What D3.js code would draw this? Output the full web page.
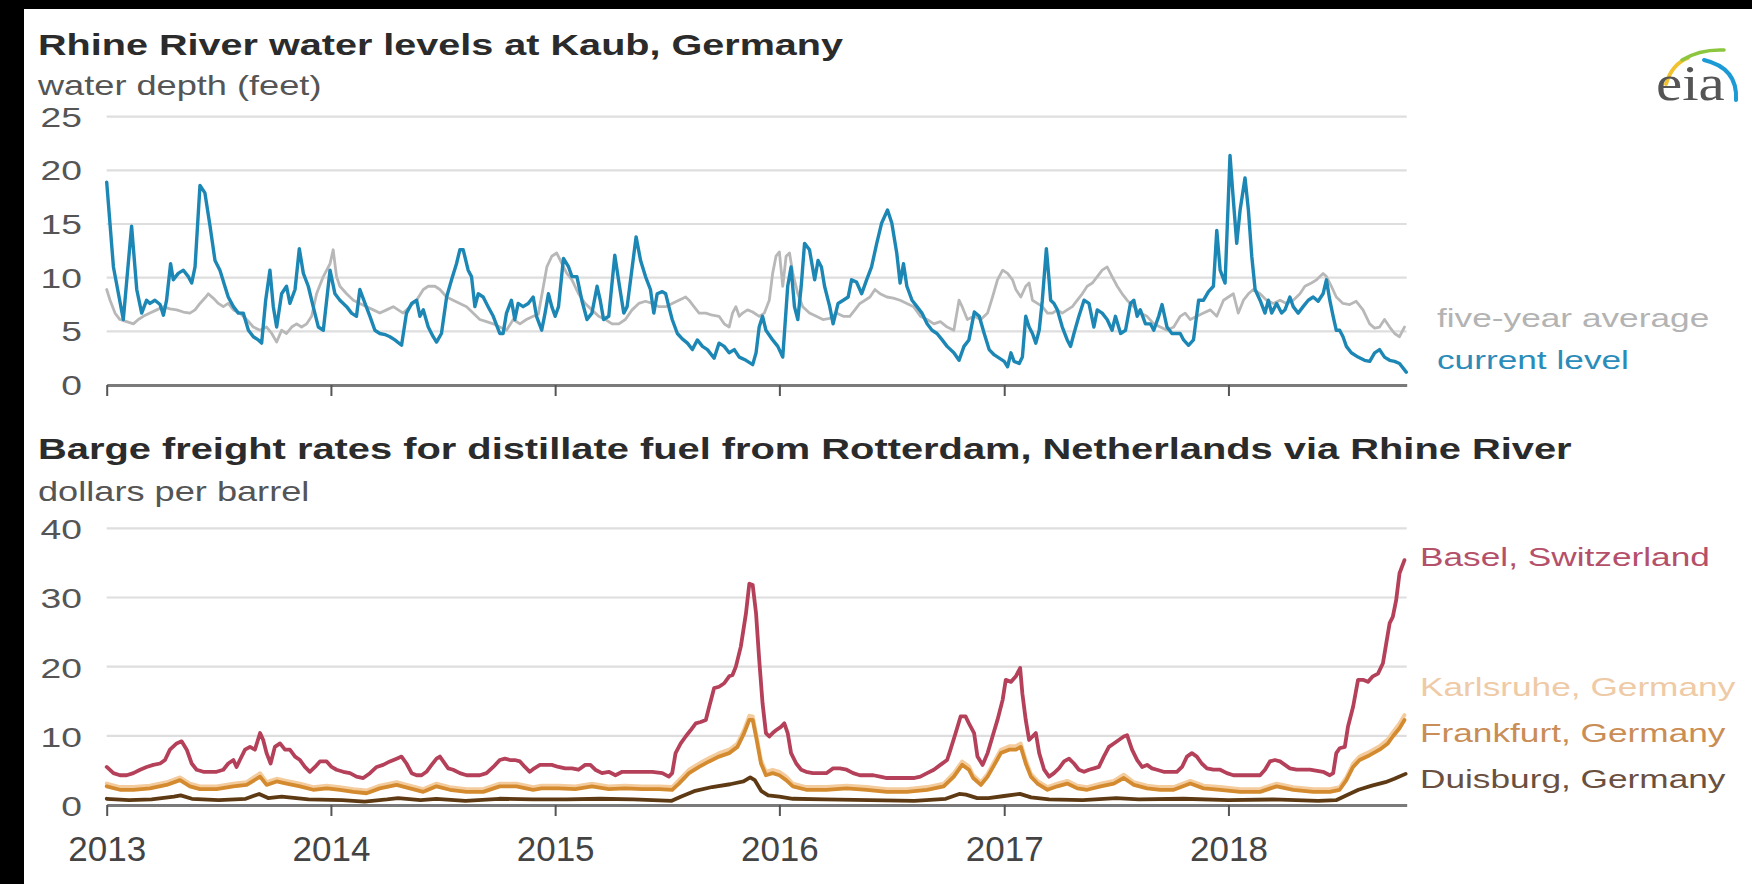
<!DOCTYPE html>
<html><head><meta charset="utf-8">
<script src="https://cdn.jsdelivr.net/npm/d3@7"></script>
<style>html,body{margin:0;padding:0;background:#000;} svg{display:block}</style>
</head><body>
<svg id="c" width="1752" height="884"></svg>
<script>
// ---------------- DATA ----------------
const years = [2013, 2014, 2015, 2016, 2017, 2018];
const levelTicks = [0, 5, 10, 15, 20, 25];
const rateTicks = [0, 10, 20, 30, 40];

// Rhine water level at Kaub, feet  [decimal year, value]
const currentLevel = [[2013.000,18.9],[2013.030,11.0],[2013.074,6.1],[2013.111,14.8],[2013.134,8.9],[2013.156,6.7],[2013.178,7.9],[2013.193,7.6],[2013.215,7.9],[2013.238,7.5],[2013.253,6.5],[2013.267,7.9],[2013.285,11.3],[2013.297,9.8],[2013.319,10.4],[2013.342,10.7],[2013.364,10.1],[2013.379,9.5],[2013.394,11.0],[2013.416,18.6],[2013.438,17.9],[2013.461,14.8],[2013.483,11.6],[2013.505,10.7],[2013.527,9.2],[2013.542,8.2],[2013.565,7.3],[2013.587,6.7],[2013.609,6.7],[2013.632,5.1],[2013.654,4.5],[2013.676,4.2],[2013.691,3.9],[2013.709,7.9],[2013.728,10.7],[2013.743,7.3],[2013.758,5.4],[2013.780,8.5],[2013.802,9.2],[2013.817,7.6],[2013.840,8.9],[2013.859,12.7],[2013.877,10.4],[2013.899,9.2],[2013.921,7.3],[2013.944,5.4],[2013.966,5.1],[2013.996,10.7],[2014.018,8.5],[2014.040,7.9],[2014.070,7.3],[2014.092,6.7],[2014.114,6.4],[2014.129,8.9],[2014.152,7.6],[2014.174,6.4],[2014.196,5.1],[2014.218,4.8],[2014.241,4.7],[2014.263,4.5],[2014.285,4.2],[2014.315,3.7],[2014.337,6.7],[2014.360,7.6],[2014.382,7.9],[2014.397,6.4],[2014.412,7.0],[2014.434,5.4],[2014.456,4.5],[2014.471,4.0],[2014.493,4.8],[2014.516,8.2],[2014.538,9.8],[2014.560,11.3],[2014.575,12.6],[2014.590,12.6],[2014.612,10.7],[2014.627,10.1],[2014.642,7.3],[2014.657,8.5],[2014.679,8.2],[2014.701,7.3],[2014.724,6.4],[2014.753,4.8],[2014.768,4.8],[2014.783,6.7],[2014.805,7.9],[2014.820,6.1],[2014.835,7.6],[2014.857,7.3],[2014.880,7.6],[2014.902,8.2],[2014.917,6.4],[2014.940,5.1],[2014.955,6.7],[2014.970,8.5],[2014.985,7.3],[2015.000,6.4],[2015.015,7.3],[2015.037,11.8],[2015.060,11.0],[2015.075,10.1],[2015.097,10.1],[2015.119,7.9],[2015.142,6.1],[2015.164,6.7],[2015.187,9.2],[2015.201,7.9],[2015.216,6.1],[2015.239,6.4],[2015.266,12.1],[2015.287,9.2],[2015.306,6.7],[2015.321,7.3],[2015.361,13.8],[2015.381,11.6],[2015.403,10.1],[2015.425,8.9],[2015.440,6.7],[2015.455,8.5],[2015.478,8.7],[2015.493,8.5],[2015.507,7.3],[2015.522,6.1],[2015.545,4.8],[2015.567,4.3],[2015.590,3.9],[2015.612,3.3],[2015.634,4.2],[2015.657,3.6],[2015.679,3.3],[2015.709,2.5],[2015.731,3.9],[2015.754,3.6],[2015.776,3.0],[2015.799,3.3],[2015.821,2.6],[2015.851,2.3],[2015.881,1.9],[2015.896,3.0],[2015.910,5.4],[2015.925,6.4],[2015.940,5.1],[2015.970,4.2],[2015.993,3.6],[2016.015,2.6],[2016.037,9.2],[2016.052,11.0],[2016.067,7.3],[2016.082,6.1],[2016.097,9.2],[2016.112,13.2],[2016.134,12.6],[2016.157,9.8],[2016.172,11.6],[2016.187,11.0],[2016.201,9.2],[2016.224,7.3],[2016.239,5.7],[2016.261,7.6],[2016.284,7.9],[2016.306,8.2],[2016.321,9.8],[2016.343,9.6],[2016.366,8.5],[2016.388,9.8],[2016.410,11.0],[2016.433,13.2],[2016.455,15.1],[2016.481,16.3],[2016.500,15.1],[2016.522,12.3],[2016.537,9.5],[2016.552,11.3],[2016.567,9.2],[2016.590,7.9],[2016.612,7.3],[2016.634,6.7],[2016.657,5.7],[2016.679,5.1],[2016.701,4.8],[2016.724,4.2],[2016.746,3.6],[2016.776,3.0],[2016.799,2.3],[2016.821,3.6],[2016.843,4.2],[2016.867,6.8],[2016.889,6.4],[2016.911,4.8],[2016.933,3.3],[2016.956,2.8],[2016.978,2.5],[2017.000,2.2],[2017.015,1.7],[2017.030,3.0],[2017.044,2.2],[2017.067,2.0],[2017.081,2.6],[2017.096,6.4],[2017.111,5.4],[2017.126,4.8],[2017.141,3.9],[2017.156,5.1],[2017.170,7.9],[2017.188,12.7],[2017.200,9.8],[2017.207,7.9],[2017.222,7.6],[2017.237,7.0],[2017.259,5.4],[2017.281,4.2],[2017.296,3.6],[2017.311,4.8],[2017.333,6.4],[2017.356,7.9],[2017.378,7.6],[2017.400,5.4],[2017.415,7.0],[2017.437,6.7],[2017.459,6.1],[2017.481,5.1],[2017.496,6.4],[2017.519,4.8],[2017.541,5.1],[2017.563,7.6],[2017.578,7.9],[2017.593,6.4],[2017.607,7.0],[2017.630,5.7],[2017.652,5.7],[2017.667,5.1],[2017.689,6.4],[2017.704,7.5],[2017.726,5.4],[2017.748,4.8],[2017.770,4.8],[2017.785,4.8],[2017.800,4.2],[2017.822,3.7],[2017.844,4.2],[2017.867,7.9],[2017.889,7.9],[2017.911,8.7],[2017.933,9.2],[2017.948,14.4],[2017.963,10.7],[2017.985,9.5],[2018.007,21.4],[2018.022,17.2],[2018.037,13.2],[2018.052,16.3],[2018.074,19.3],[2018.089,16.3],[2018.104,12.0],[2018.119,8.9],[2018.141,7.9],[2018.163,6.7],[2018.178,7.9],[2018.193,6.7],[2018.215,7.6],[2018.237,6.7],[2018.252,7.0],[2018.274,8.2],[2018.289,7.3],[2018.311,6.7],[2018.333,7.3],[2018.356,7.9],[2018.378,8.2],[2018.400,7.8],[2018.422,8.5],[2018.437,9.8],[2018.452,7.9],[2018.467,6.4],[2018.481,5.1],[2018.496,5.1],[2018.511,4.5],[2018.526,3.6],[2018.548,3.0],[2018.578,2.6],[2018.607,2.3],[2018.630,2.2],[2018.652,3.0],[2018.674,3.3],[2018.696,2.6],[2018.719,2.3],[2018.741,2.2],[2018.763,2.0],[2018.793,1.2]];

const fiveYearAverage = [[2013.000,8.9],[2013.015,7.9],[2013.037,6.7],[2013.059,6.1],[2013.089,5.9],[2013.119,5.7],[2013.141,6.1],[2013.163,6.4],[2013.193,6.7],[2013.223,7.0],[2013.253,7.3],[2013.282,7.1],[2013.312,7.0],[2013.342,6.8],[2013.371,6.7],[2013.394,7.0],[2013.416,7.6],[2013.438,8.1],[2013.453,8.5],[2013.475,8.1],[2013.498,7.6],[2013.520,7.3],[2013.542,7.6],[2013.565,7.0],[2013.594,6.7],[2013.624,6.1],[2013.654,5.4],[2013.684,5.1],[2013.713,5.4],[2013.736,4.8],[2013.758,4.0],[2013.780,5.1],[2013.802,4.8],[2013.825,5.4],[2013.847,5.7],[2013.869,5.4],[2013.892,5.7],[2013.914,6.4],[2013.936,8.5],[2013.966,10.1],[2013.996,11.3],[2014.010,12.6],[2014.025,10.1],[2014.040,9.2],[2014.070,8.5],[2014.100,7.9],[2014.129,7.6],[2014.159,7.3],[2014.189,7.0],[2014.218,6.7],[2014.248,7.0],[2014.278,7.3],[2014.300,7.0],[2014.322,6.7],[2014.352,7.3],[2014.382,7.9],[2014.412,8.9],[2014.434,9.2],[2014.464,9.2],[2014.486,8.9],[2014.516,8.2],[2014.545,7.9],[2014.575,7.6],[2014.605,7.3],[2014.634,6.7],[2014.664,6.1],[2014.694,5.9],[2014.724,5.7],[2014.753,5.4],[2014.783,5.1],[2014.813,6.1],[2014.843,5.7],[2014.872,6.1],[2014.902,6.4],[2014.925,6.6],[2014.945,8.9],[2014.963,11.0],[2014.985,12.0],[2015.007,12.3],[2015.030,11.3],[2015.052,10.4],[2015.075,9.8],[2015.104,8.5],[2015.134,7.6],[2015.164,7.0],[2015.194,6.4],[2015.224,6.1],[2015.254,5.7],[2015.284,5.7],[2015.313,6.1],[2015.343,7.0],[2015.373,7.6],[2015.403,7.8],[2015.433,7.6],[2015.463,7.3],[2015.493,7.3],[2015.522,7.6],[2015.552,7.9],[2015.582,8.2],[2015.597,7.9],[2015.619,7.3],[2015.642,6.7],[2015.672,6.7],[2015.701,6.5],[2015.731,6.4],[2015.754,5.7],[2015.776,5.4],[2015.791,6.7],[2015.806,7.3],[2015.821,6.4],[2015.836,6.7],[2015.858,7.0],[2015.881,6.8],[2015.910,6.4],[2015.933,6.7],[2015.955,7.9],[2015.970,10.4],[2015.985,12.0],[2016.000,12.4],[2016.015,9.2],[2016.030,12.0],[2016.045,12.3],[2016.060,10.4],[2016.082,8.5],[2016.104,7.3],[2016.134,6.7],[2016.164,6.4],[2016.194,6.1],[2016.224,6.2],[2016.254,6.7],[2016.284,6.4],[2016.313,6.4],[2016.336,7.0],[2016.358,7.6],[2016.381,7.9],[2016.403,8.2],[2016.425,8.9],[2016.448,8.5],[2016.478,8.2],[2016.507,8.1],[2016.537,7.9],[2016.567,7.6],[2016.597,7.3],[2016.627,6.4],[2016.657,6.1],[2016.687,5.7],[2016.716,5.9],[2016.746,5.4],[2016.776,5.1],[2016.799,7.9],[2016.813,7.3],[2016.836,6.1],[2016.866,6.4],[2016.896,6.1],[2016.926,6.7],[2016.948,8.2],[2016.970,9.8],[2016.993,10.7],[2017.015,10.4],[2017.037,9.8],[2017.052,8.9],[2017.074,8.2],[2017.096,9.2],[2017.111,9.5],[2017.126,7.9],[2017.148,7.6],[2017.170,7.3],[2017.193,6.7],[2017.215,6.7],[2017.237,7.0],[2017.259,6.7],[2017.281,7.0],[2017.304,7.3],[2017.326,7.9],[2017.348,8.5],[2017.370,9.2],[2017.393,9.5],[2017.415,10.1],[2017.437,10.7],[2017.459,11.0],[2017.481,10.1],[2017.504,9.2],[2017.526,8.5],[2017.548,7.9],[2017.578,7.3],[2017.607,6.7],[2017.637,6.4],[2017.667,5.7],[2017.696,5.4],[2017.726,5.1],[2017.756,5.4],[2017.785,6.4],[2017.807,6.7],[2017.830,6.1],[2017.859,6.4],[2017.889,6.7],[2017.919,7.0],[2017.948,6.4],[2017.978,7.9],[2018.000,8.2],[2018.022,8.5],[2018.044,6.7],[2018.067,7.9],[2018.089,8.5],[2018.111,8.9],[2018.141,8.5],[2018.170,7.9],[2018.200,7.6],[2018.230,7.9],[2018.259,7.6],[2018.289,7.9],[2018.319,8.5],[2018.341,9.2],[2018.370,9.5],[2018.393,9.8],[2018.422,10.4],[2018.437,10.1],[2018.459,9.2],[2018.481,8.2],[2018.511,7.6],[2018.541,7.5],[2018.570,7.8],[2018.600,7.0],[2018.630,5.7],[2018.652,5.3],[2018.674,5.4],[2018.696,6.1],[2018.719,5.4],[2018.741,4.8],[2018.763,4.5],[2018.785,5.4]];

// Barge freight rates, dollars per barrel  [decimal year, value]
const basel = [[2013.000,5.5],[2013.030,4.6],[2013.059,4.3],[2013.089,4.3],[2013.119,4.6],[2013.149,5.1],[2013.178,5.5],[2013.208,5.8],[2013.238,6.0],[2013.260,6.5],[2013.282,8.0],[2013.312,8.9],[2013.334,9.2],[2013.357,8.0],[2013.379,6.0],[2013.401,5.1],[2013.431,4.8],[2013.461,4.8],[2013.490,4.8],[2013.520,5.1],[2013.542,6.0],[2013.565,6.5],[2013.579,5.5],[2013.594,6.5],[2013.617,8.0],[2013.639,8.4],[2013.661,8.0],[2013.684,10.4],[2013.698,9.4],[2013.713,7.5],[2013.731,6.0],[2013.750,8.4],[2013.773,8.9],[2013.795,8.0],[2013.817,8.0],[2013.840,7.0],[2013.862,6.5],[2013.884,5.5],[2013.906,4.8],[2013.929,5.5],[2013.951,6.3],[2013.981,6.3],[2014.003,5.5],[2014.025,5.1],[2014.055,4.8],[2014.085,4.6],[2014.114,4.1],[2014.144,3.9],[2014.174,4.6],[2014.204,5.5],[2014.233,5.8],[2014.263,6.3],[2014.293,6.7],[2014.315,7.0],[2014.337,6.0],[2014.360,4.6],[2014.382,4.3],[2014.404,4.3],[2014.426,4.8],[2014.449,5.8],[2014.471,6.7],[2014.486,7.0],[2014.501,6.3],[2014.523,5.3],[2014.545,5.1],[2014.575,4.6],[2014.605,4.3],[2014.634,4.3],[2014.664,4.3],[2014.694,4.6],[2014.724,5.5],[2014.753,6.5],[2014.776,6.7],[2014.798,6.5],[2014.820,6.5],[2014.843,6.3],[2014.865,5.5],[2014.887,4.8],[2014.907,5.3],[2014.932,5.8],[2014.985,5.8],[2015.015,5.5],[2015.045,5.3],[2015.075,5.3],[2015.104,5.1],[2015.134,5.8],[2015.157,5.8],[2015.179,5.1],[2015.209,4.6],[2015.239,4.8],[2015.269,4.3],[2015.299,4.8],[2015.343,4.8],[2015.388,4.8],[2015.433,4.8],[2015.478,4.6],[2015.507,4.1],[2015.522,4.6],[2015.537,7.5],[2015.560,8.9],[2015.582,9.9],[2015.604,10.8],[2015.627,11.8],[2015.649,12.0],[2015.672,12.3],[2015.687,14.2],[2015.709,16.9],[2015.731,17.1],[2015.754,17.6],[2015.776,18.6],[2015.791,18.8],[2015.806,20.0],[2015.828,22.9],[2015.851,27.7],[2015.866,32.0],[2015.881,31.8],[2015.896,27.7],[2015.910,21.0],[2015.925,14.7],[2015.940,10.4],[2015.955,9.9],[2015.970,10.4],[2015.985,10.8],[2016.007,11.3],[2016.022,11.8],[2016.037,10.4],[2016.052,7.5],[2016.075,6.0],[2016.097,5.1],[2016.119,4.8],[2016.149,4.6],[2016.179,4.6],[2016.209,4.6],[2016.239,5.3],[2016.269,5.3],[2016.299,5.1],[2016.328,4.6],[2016.358,4.3],[2016.388,4.3],[2016.418,4.3],[2016.448,4.1],[2016.478,3.9],[2016.537,3.9],[2016.597,3.9],[2016.627,4.1],[2016.657,4.6],[2016.687,5.1],[2016.716,5.8],[2016.746,6.5],[2016.761,8.0],[2016.784,10.4],[2016.806,12.8],[2016.828,12.8],[2016.843,11.8],[2016.866,10.4],[2016.881,7.0],[2016.904,5.8],[2016.926,7.5],[2016.948,9.9],[2016.970,12.3],[2016.993,15.2],[2017.007,18.1],[2017.030,17.8],[2017.052,18.6],[2017.071,19.8],[2017.081,16.1],[2017.096,12.3],[2017.111,9.4],[2017.126,9.9],[2017.141,10.4],[2017.156,7.5],[2017.178,5.1],[2017.200,4.1],[2017.222,4.6],[2017.244,5.3],[2017.267,6.3],[2017.289,6.7],[2017.311,6.0],[2017.333,5.1],[2017.356,4.8],[2017.378,5.1],[2017.400,5.3],[2017.422,5.5],[2017.444,7.0],[2017.467,8.4],[2017.489,8.9],[2017.511,9.4],[2017.533,9.9],[2017.548,10.1],[2017.570,8.0],[2017.593,6.5],[2017.615,5.5],[2017.637,5.8],[2017.659,5.3],[2017.681,5.1],[2017.711,4.8],[2017.741,4.8],[2017.770,4.8],[2017.793,5.5],[2017.815,7.0],[2017.837,7.5],[2017.859,7.0],[2017.881,6.0],[2017.904,5.3],[2017.933,5.1],[2017.963,5.1],[2017.993,4.6],[2018.022,4.3],[2018.081,4.3],[2018.141,4.3],[2018.163,5.1],[2018.185,6.3],[2018.207,6.5],[2018.230,6.3],[2018.252,5.8],[2018.274,5.3],[2018.304,5.1],[2018.363,5.1],[2018.422,4.8],[2018.452,4.3],[2018.467,4.6],[2018.481,7.5],[2018.496,8.2],[2018.519,8.4],[2018.533,11.3],[2018.556,14.2],[2018.578,18.1],[2018.600,18.1],[2018.622,17.8],[2018.644,18.6],[2018.667,19.0],[2018.689,20.5],[2018.704,23.4],[2018.719,26.3],[2018.733,27.2],[2018.748,29.6],[2018.763,33.5],[2018.785,35.4]];

const frankfurt = [[2013.000,2.7],[2013.059,2.2],[2013.119,2.2],[2013.193,2.4],[2013.267,2.9],[2013.327,3.6],[2013.371,2.7],[2013.416,2.3],[2013.490,2.3],[2013.565,2.7],[2013.624,2.9],[2013.684,4.1],[2013.713,2.9],[2013.758,3.4],[2013.802,3.1],[2013.862,2.7],[2013.921,2.2],[2013.981,2.4],[2014.040,2.2],[2014.100,1.9],[2014.159,1.7],[2014.218,2.4],[2014.293,2.9],[2014.352,2.4],[2014.412,1.9],[2014.471,2.7],[2014.530,2.2],[2014.605,1.9],[2014.679,1.9],[2014.753,2.7],[2014.827,2.7],[2014.902,2.2],[2014.940,2.4],[2015.015,2.4],[2015.090,2.3],[2015.164,2.7],[2015.239,2.3],[2015.313,2.4],[2015.388,2.3],[2015.463,2.3],[2015.522,2.2],[2015.552,3.1],[2015.597,4.6],[2015.642,5.5],[2015.687,6.3],[2015.731,7.0],[2015.776,7.5],[2015.813,8.4],[2015.843,10.4],[2015.866,12.3],[2015.881,12.3],[2015.896,9.9],[2015.918,6.0],[2015.940,4.3],[2015.970,4.6],[2016.000,4.3],[2016.030,3.6],[2016.060,2.7],[2016.119,2.2],[2016.209,2.2],[2016.299,2.4],[2016.388,2.2],[2016.478,1.9],[2016.567,1.9],[2016.657,2.2],[2016.731,2.7],[2016.776,4.1],[2016.813,5.8],[2016.843,5.1],[2016.862,3.9],[2016.896,2.9],[2016.926,4.1],[2016.956,5.8],[2016.985,7.5],[2017.022,8.0],[2017.052,8.0],[2017.074,8.4],[2017.096,6.0],[2017.119,4.1],[2017.148,3.1],[2017.193,2.2],[2017.237,2.7],[2017.281,3.1],[2017.326,2.4],[2017.370,2.2],[2017.430,2.7],[2017.489,3.1],[2017.533,3.9],[2017.578,2.9],[2017.637,2.4],[2017.696,2.2],[2017.756,2.2],[2017.830,3.1],[2017.889,2.4],[2017.963,2.2],[2018.052,1.9],[2018.141,1.9],[2018.215,2.7],[2018.289,2.2],[2018.378,1.9],[2018.452,1.9],[2018.496,2.2],[2018.526,3.6],[2018.556,5.5],[2018.585,6.5],[2018.630,7.2],[2018.674,8.0],[2018.711,8.9],[2018.733,9.9],[2018.763,11.1],[2018.785,12.3]];

const karlsruhe = [[2013.000,3.1],[2013.059,2.6],[2013.119,2.6],[2013.193,2.8],[2013.267,3.3],[2013.327,4.0],[2013.371,3.1],[2013.416,2.7],[2013.490,2.7],[2013.565,3.1],[2013.624,3.3],[2013.684,4.6],[2013.713,3.3],[2013.758,3.8],[2013.802,3.5],[2013.862,3.1],[2013.921,2.6],[2013.981,2.8],[2014.040,2.6],[2014.100,2.3],[2014.159,2.1],[2014.218,2.8],[2014.293,3.3],[2014.352,2.8],[2014.412,2.3],[2014.471,3.1],[2014.530,2.6],[2014.605,2.3],[2014.679,2.3],[2014.753,3.1],[2014.827,3.1],[2014.902,2.6],[2014.940,2.8],[2015.015,2.8],[2015.090,2.7],[2015.164,3.1],[2015.239,2.7],[2015.313,2.8],[2015.388,2.7],[2015.463,2.7],[2015.522,2.6],[2015.552,3.6],[2015.597,5.1],[2015.642,6.0],[2015.687,6.8],[2015.731,7.5],[2015.776,8.0],[2015.813,8.9],[2015.843,10.9],[2015.866,12.9],[2015.881,12.8],[2015.896,10.4],[2015.918,6.5],[2015.940,4.8],[2015.970,5.1],[2016.000,4.8],[2016.030,4.1],[2016.060,3.1],[2016.119,2.6],[2016.209,2.6],[2016.299,2.8],[2016.388,2.6],[2016.478,2.3],[2016.567,2.3],[2016.657,2.6],[2016.731,3.1],[2016.776,4.6],[2016.813,6.3],[2016.843,5.6],[2016.862,4.3],[2016.896,3.3],[2016.926,4.5],[2016.956,6.3],[2016.985,8.0],[2017.022,8.5],[2017.052,8.5],[2017.074,8.9],[2017.096,6.5],[2017.119,4.5],[2017.148,3.5],[2017.193,2.6],[2017.237,3.1],[2017.281,3.5],[2017.326,2.8],[2017.370,2.6],[2017.430,3.1],[2017.489,3.5],[2017.533,4.4],[2017.578,3.3],[2017.637,2.8],[2017.696,2.6],[2017.756,2.6],[2017.830,3.5],[2017.889,2.8],[2017.963,2.6],[2018.052,2.3],[2018.141,2.3],[2018.215,3.1],[2018.289,2.6],[2018.378,2.3],[2018.452,2.3],[2018.496,2.6],[2018.526,4.0],[2018.556,6.0],[2018.585,7.0],[2018.630,7.7],[2018.674,8.5],[2018.711,9.5],[2018.733,10.5],[2018.763,11.8],[2018.785,13.0]];

const duisburg = [[2013.000,0.9],[2013.100,0.7],[2013.200,0.8],[2013.300,1.2],[2013.330,1.4],[2013.380,0.9],[2013.500,0.7],[2013.620,0.9],[2013.680,1.6],[2013.720,1.0],[2013.780,1.2],[2013.900,0.8],[2014.050,0.7],[2014.150,0.5],[2014.250,0.8],[2014.300,1.0],[2014.400,0.7],[2014.470,0.9],[2014.600,0.6],[2014.750,0.9],[2014.900,0.8],[2015.050,0.8],[2015.200,0.9],[2015.350,0.8],[2015.520,0.6],[2015.560,1.2],[2015.620,2.0],[2015.700,2.6],[2015.780,3.0],[2015.840,3.4],[2015.870,4.0],[2015.890,3.6],[2015.920,2.0],[2015.950,1.4],[2016.000,1.2],[2016.060,0.9],[2016.200,0.8],[2016.400,0.7],[2016.600,0.6],[2016.740,0.9],[2016.800,1.6],[2016.830,1.5],[2016.880,1.0],[2016.930,1.0],[2017.000,1.3],[2017.070,1.6],[2017.120,1.1],[2017.200,0.8],[2017.350,0.7],[2017.500,1.0],[2017.600,0.8],[2017.800,0.9],[2018.000,0.7],[2018.200,0.8],[2018.400,0.6],[2018.480,0.7],[2018.520,1.3],[2018.580,2.2],[2018.640,2.8],[2018.700,3.3],[2018.740,3.8],[2018.790,4.5]];

// ---------------- DRAWING ----------------
const svg = d3.select('#c');
const W = 1752, H = 884;
const FONT = "'Liberation Sans', Arial, Helvetica, sans-serif";
const SX = 1.33;

svg.append('rect').attr('width', W).attr('height', H).attr('fill', '#000');
svg.append('rect').attr('x', 24).attr('y', 9).attr('width', W - 24).attr('height', H - 9).attr('fill', '#fff');

const toDate = t => { const y = Math.floor(t); const s = Date.UTC(y, 0, 1), e = Date.UTC(y + 1, 0, 1); return new Date(s + (t - y) * (e - s)); };
const x = d3.scaleUtc().domain([toDate(2013), toDate(2018.795)]).range([106.7, 1406.7]);
const yTop = d3.scaleLinear().domain([0, 25]).range([385, 116.7]);
const yBot = d3.scaleLinear().domain([0, 40]).range([805, 528.3]);

function txt(s, tx, ty, o) {
  return svg.append('text')
    .attr('transform', `translate(${tx},${ty}) scale(${o.sx || SX},1)`)
    .attr('text-anchor', o.anchor || 'start')
    .style('font-family', o.family || FONT)
    .style('font-size', o.size + 'px')
    .style('font-weight', o.weight || 'normal')
    .attr('fill', o.fill || '#333')
    .text(s);
}

function panel(y, ticks, labelOffset, withLabels) {
  const g = svg.append('g');
  g.selectAll('line.grid').data(ticks.filter(d => d > 0)).join('line')
    .attr('x1', x.range()[0]).attr('x2', x.range()[1])
    .attr('y1', d => y(d)).attr('y2', d => y(d))
    .attr('stroke', '#dedede').attr('stroke-width', 2.2);
  ticks.forEach(t => txt(String(t), 82, y(t) + labelOffset, {size: 28, anchor: 'end', fill: '#555'}));
  const axis = d3.axisBottom(x).tickValues(years.map(toDate)).tickSize(11).tickSizeOuter(0).tickPadding(20)
    .tickFormat(withLabels ? d3.utcFormat('%Y') : () => '');
  const a = svg.append('g').attr('transform', `translate(0,${y(0)})`).call(axis);
  a.select('.domain').attr('stroke', '#7a7a7a').attr('stroke-width', 3.2);
  a.selectAll('.tick line').attr('stroke', '#555').attr('stroke-width', 2);
  a.selectAll('.tick text').style('font-family', FONT).style('font-size', '35px').attr('fill', '#444');
}

function series(data, y, color, width) {
  const line = d3.line().x(d => x(toDate(d[0]))).y(d => y(d[1]));
  svg.append('path').datum(data).attr('d', line).attr('fill', 'none')
    .attr('stroke', color).attr('stroke-width', width)
    .attr('stroke-linejoin', 'round').attr('stroke-linecap', 'round');
}

// Top panel
txt('Rhine River water levels at Kaub, Germany', 38, 55, {size: 30, weight: 'bold', fill: '#2b2b2b', sx: 1.32});
txt('water depth (feet)', 38, 95, {size: 27, fill: '#555', sx: 1.34});
panel(yTop, levelTicks, 10, false);
series(fiveYearAverage, yTop, '#b8b8b8', 2.8);
series(currentLevel, yTop, '#1c87b5', 3.4);
txt('five-year average', 1437, 327, {size: 26.5, fill: '#b3b3b3'});
txt('current level', 1437, 369, {size: 26.5, fill: '#2b8cba'});

// Bottom panel
txt('Barge freight rates for distillate fuel from Rotterdam, Netherlands via Rhine River', 38, 459, {size: 30, weight: 'bold', fill: '#2b2b2b', sx: 1.328});
txt('dollars per barrel', 38, 501, {size: 27, fill: '#555', sx: 1.34});
panel(yBot, rateTicks, 11, true);
series(duisburg, yBot, '#5e3a14', 3.8);
series(karlsruhe, yBot, '#f3cb9c', 3.8);
series(frankfurt, yBot, '#d48a2e', 3.8);
series(basel, yBot, '#b5405a', 3.8);
txt('Basel, Switzerland', 1420, 566, {size: 26.5, fill: '#b5506a'});
txt('Karlsruhe, Germany', 1420, 696, {size: 26.5, fill: '#efcaa6'});
txt('Frankfurt, Germany', 1420, 742, {size: 26.5, fill: '#c98d55'});
txt('Duisburg, Germany', 1420, 788, {size: 26.5, fill: '#6a5040'});

// eia logo
const logo = svg.append('g');
logo.append('path').attr('d', 'M1666,84 Q1672,64 1688,58').attr('fill', 'none').attr('stroke', '#f2c12e').attr('stroke-width', 4).attr('stroke-linecap', 'round');
logo.append('path').attr('d', 'M1682,60 Q1700,49 1724,50').attr('fill', 'none').attr('stroke', '#8cc63f').attr('stroke-width', 3.5).attr('stroke-linecap', 'round');
logo.append('path').attr('d', 'M1704,60 Q1738,68 1736,100').attr('fill', 'none').attr('stroke', '#1b9ad6').attr('stroke-width', 4).attr('stroke-linecap', 'round');
txt('eia', 1656, 100, {size: 50, family: "'Liberation Serif', 'DejaVu Serif', serif", fill: '#555', sx: 1.18});
</script>
</body></html>
